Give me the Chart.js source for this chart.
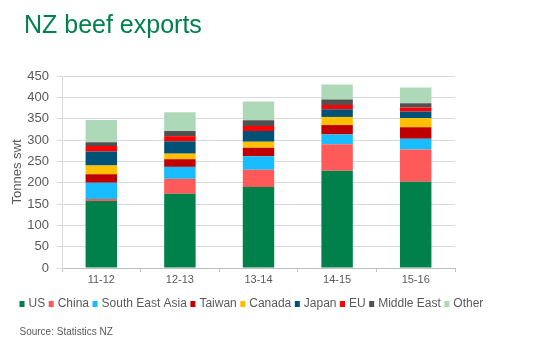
<!DOCTYPE html>
<html>
<head>
<meta charset="utf-8">
<script src="https://cdn.jsdelivr.net/npm/chart.js@4/dist/chart.umd.min.js"></script>
<style>
  html, body { margin: 0; padding: 0; background: #ffffff; }
  #wrap { width: 541px; height: 345px; position: relative; }
</style>
</head>
<body>
<div id="wrap"><canvas id="chart" width="541" height="345"></canvas></div>
<script>
const FONT = "'Liberation Sans', Arial, sans-serif";

const years = ['11-12', '12-13', '13-14', '14-15', '15-16'];
const yTicks = [0, 50, 100, 150, 200, 250, 300, 350, 400, 450];

const us = [157, 174, 190, 228, 202];
const china = [5, 35, 40, 62, 76];
const seAsia = [38, 28, 32, 23, 25];
const taiwan = [20, 18, 20, 22, 27];
const canada = [20, 13, 14, 19, 21];
const japan = [33, 29, 25, 18, 16];
const eu = [13, 12, 12, 10, 9];
const middleEast = [9, 12, 13, 13, 10];
const other = [52, 44, 44, 35, 37];

const series = [
    { label: 'US', data: us, color: '#00804B' },
    { label: 'China', data: china, color: '#FF5A5A' },
    { label: 'South East Asia', data: seAsia, color: '#17BDFF' },
    { label: 'Taiwan', data: taiwan, color: '#C00000' },
    { label: 'Canada', data: canada, color: '#FFC000' },
    { label: 'Japan', data: japan, color: '#005176' },
    { label: 'EU', data: eu, color: '#FF0000' },
    { label: 'Middle East', data: middleEast, color: '#505050' },
    { label: 'Other', data: other, color: '#ADD9B9' }
];

const textPlugin = {
    id: 'textPlugin',
    afterDraw: (chart) => {
        const ctx = chart.ctx;
        ctx.save();
        // title
        ctx.fillStyle = '#00804B';
        ctx.font = `25px ${FONT}`;
        ctx.textBaseline = 'alphabetic';
        ctx.textAlign = 'left';
        ctx.fillText('NZ beef exports', 24, 33);

        // legend
        ctx.font = `12px ${FONT}`;
        ctx.textBaseline = 'middle';
        let x = 19.5;
        const y = 304;
        chart.data.datasets.forEach(ds => {
            ctx.fillStyle = ds.backgroundColor;
            ctx.fillRect(x, y - 3, 5, 6);
            x += 9;
            ctx.fillStyle = '#595959';
            ctx.fillText(ds.label, x, y);
            x += ctx.measureText(ds.label).width + 3.5;
        });

        // source
        ctx.font = `10px ${FONT}`;
        ctx.fillStyle = '#595959';
        ctx.fillText('Source: Statistics NZ', 19.5, 332);
        ctx.restore();
    }
};

const bgPlugin = {
    id: 'bg',
    beforeDraw: (chart) => {
        const ctx = chart.ctx;
        ctx.save();
        ctx.fillStyle = '#ffffff';
        ctx.fillRect(0, 0, chart.width, chart.height);
        ctx.restore();
    }
};

new Chart(document.getElementById('chart'), {
    type: 'bar',
    data: {
        labels: years,
        datasets: series.map(s => ({
            label: s.label,
            data: s.data,
            backgroundColor: s.color,
            borderWidth: 0,
            barPercentage: 0.4,
            categoryPercentage: 1
        }))
    },
    options: {
        responsive: false,
        animation: false,
        layout: {
            padding: { left: 0, right: 86, top: 76, bottom: 57 }
        },
        scales: {
            x: {
                stacked: true,
                afterFit: (scale) => { scale.height = 20; },
                grid: {
                    display: true,
                    offset: true,
                    drawOnChartArea: false,
                    color: '#BFBFBF',
                    tickLength: 4
                },
                border: { display: true, color: '#BFBFBF' },
                ticks: {
                    color: '#595959',
                    font: { family: FONT, size: 11 },
                    padding: 1,
                    maxRotation: 0
                }
            },
            y: {
                stacked: true,
                min: 0,
                max: 450,
                afterFit: (scale) => { scale.width = 62; },
                afterBuildTicks: (scale) => {
                    scale.ticks = yTicks.map(v => ({ value: v }));
                },
                grid: {
                    color: '#D9D9D9',
                    tickLength: 5
                },
                border: { display: true, color: '#D9D9D9' },
                ticks: {
                    color: '#595959',
                    font: { family: FONT, size: 13 },
                    padding: 8
                },
                title: {
                    display: true,
                    text: 'Tonnes swt',
                    color: '#595959',
                    font: { family: FONT, size: 13 },
                    padding: { top: 10, bottom: 0 }
                }
            }
        },
        plugins: {
            legend: { display: false },
            title: { display: false },
            tooltip: { enabled: false }
        }
    },
    plugins: [bgPlugin, textPlugin]
});
</script>
</body>
</html>
